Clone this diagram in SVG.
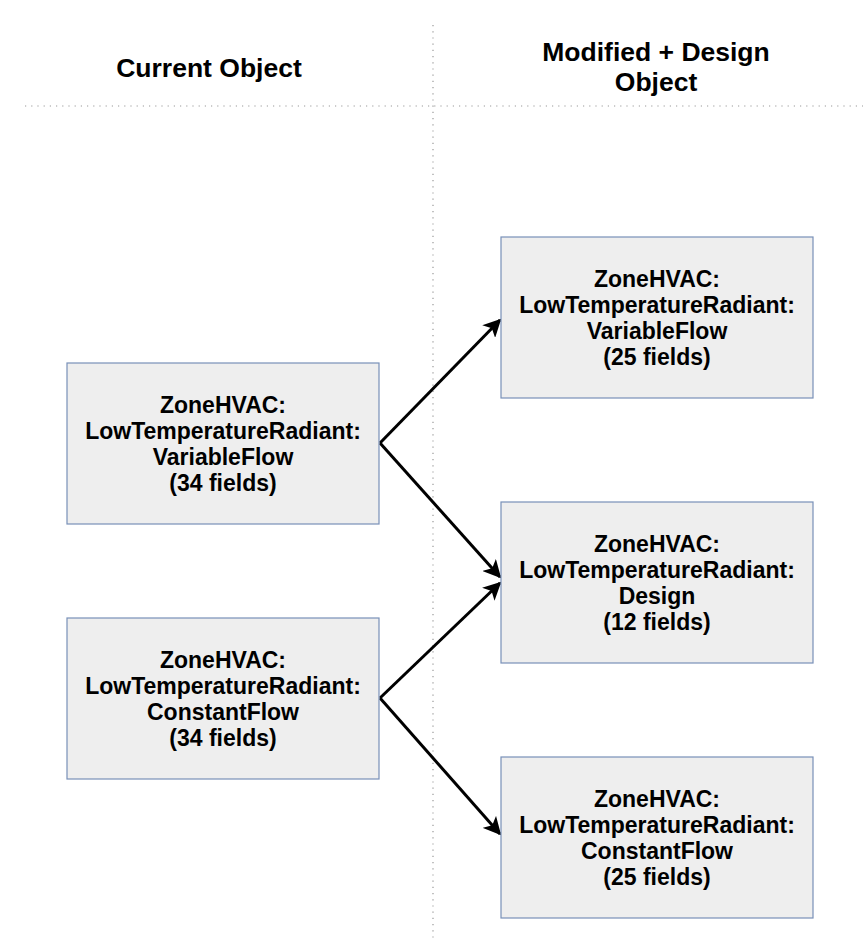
<svg xmlns="http://www.w3.org/2000/svg" width="863" height="939" viewBox="0 0 863 939">
<style>
.box{fill:#eeeeee;stroke:#7890b8;stroke-width:1.2}
.t{font-family:"Liberation Sans",Arial,sans-serif;font-weight:bold;font-size:23px;text-anchor:middle;fill:#000}
.h{font-family:"Liberation Sans",Arial,sans-serif;font-weight:bold;font-size:26.5px;text-anchor:middle;fill:#000}
.sep{stroke:#999;stroke-width:1.2;stroke-dasharray:1.2 5;fill:none}
.c{stroke:#000;stroke-width:3;fill:none;marker-end:url(#ah)}
</style>
<defs>
<marker id="ah" viewBox="0 0 10 10" refX="9" refY="5" markerWidth="6" markerHeight="6" markerUnits="strokeWidth" orient="auto">
<path d="M0,0 L10,5 L0,10 L2.5,5 Z" fill="#000"/>
</marker>
</defs>
<g id="separators">
<line class="sep" x1="433" y1="25" x2="433" y2="939"/>
<line class="sep" x1="25" y1="106" x2="863" y2="106"/>
</g>
<g id="headers">
<text class="h" x="209" y="76.5">Current Object</text>
<text class="h" x="656" y="61">Modified + Design</text>
<text class="h" x="656" y="90.5">Object</text>
</g>
<g id="connectors">
<path class="c" d="M380,443 L500,320"/>
<path class="c" d="M380,443 L500,577"/>
<path class="c" d="M380,698 L500,583"/>
<path class="c" d="M380,698 L500,834"/>
</g>
<g id="cur-variable">
<rect class="box" x="67" y="363" width="312" height="161"/>
<text class="t" x="223" y="413">ZoneHVAC:</text>
<text class="t" x="223" y="439">LowTemperatureRadiant:</text>
<text class="t" x="223" y="465">VariableFlow</text>
<text class="t" x="223" y="491">(34 fields)</text>
</g>
<g id="cur-constant">
<rect class="box" x="67" y="618" width="312" height="161"/>
<text class="t" x="223" y="668">ZoneHVAC:</text>
<text class="t" x="223" y="694">LowTemperatureRadiant:</text>
<text class="t" x="223" y="720">ConstantFlow</text>
<text class="t" x="223" y="746">(34 fields)</text>
</g>
<g id="new-variable">
<rect class="box" x="501" y="237" width="312" height="161"/>
<text class="t" x="657" y="287">ZoneHVAC:</text>
<text class="t" x="657" y="313">LowTemperatureRadiant:</text>
<text class="t" x="657" y="339">VariableFlow</text>
<text class="t" x="657" y="365">(25 fields)</text>
</g>
<g id="new-design">
<rect class="box" x="501" y="502" width="312" height="161"/>
<text class="t" x="657" y="552">ZoneHVAC:</text>
<text class="t" x="657" y="578">LowTemperatureRadiant:</text>
<text class="t" x="657" y="604">Design</text>
<text class="t" x="657" y="630">(12 fields)</text>
</g>
<g id="new-constant">
<rect class="box" x="501" y="757" width="312" height="161"/>
<text class="t" x="657" y="807">ZoneHVAC:</text>
<text class="t" x="657" y="833">LowTemperatureRadiant:</text>
<text class="t" x="657" y="859">ConstantFlow</text>
<text class="t" x="657" y="885">(25 fields)</text>
</g>
</svg>
